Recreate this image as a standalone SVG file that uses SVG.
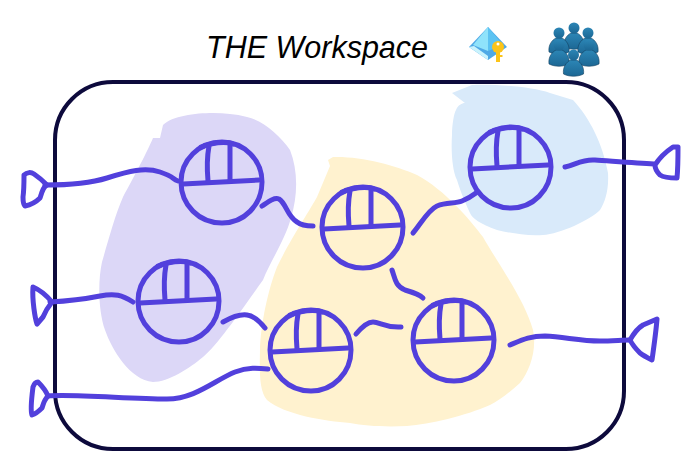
<svg xmlns="http://www.w3.org/2000/svg" width="700" height="473" viewBox="0 0 700 473">
<style>
.ink{fill:none;stroke:#5240dc;stroke-width:5;stroke-linecap:round;stroke-linejoin:round}
.title{font-family:"Liberation Sans",Arial,sans-serif;font-style:italic;font-size:30.500px;fill:#000}
.p{fill:url(#pg)}
</style>
<defs>
<linearGradient id="pg" x1="0" y1="0" x2="0" y2="1"><stop offset="0" stop-color="#2c86b6"/><stop offset="1" stop-color="#1c6794"/></linearGradient>
<g id="glyph" class="ink">
<path d="M-40 0C-40 -22 -22 -40 1 -40C23 -40 41 -22 41 0C41 23 23 41 1 41C-22 41 -40 23 -40 0Z"/>
<path d="M-20 -35C-10 -39 4 -41 12 -38"/>
<path d="M-38 2L38 -2"/>
<path d="M-12 -36C-14 -25 -14 -12 -13 -1"/>
<path d="M9 -37L9 -1"/>
</g>
<g id="person">
<path class="p" stroke="#12405f" stroke-width=".6" d="M-10 10C-11 3 -7 -2 -3 -4L3 -4C7 -2 11 3 10 10C4 13 -4 13 -10 10Z"/>
<circle cx="0" cy="-9" r="5.500" class="p"/>
</g>
</defs>
<rect width="700" height="473" fill="#fff"/>
<g id="zones">
<path fill="#dcd7f7" d="M213 113C195 113 172 116 163 125L160 138L153 138C148 150 135 175 123 197C115 215 107 245 102 262C98 280 98 310 105 330C112 350 130 380 153 382C168 382 190 368 203 357C218 345 245 305 263 280C270 262 285 240 291 218C298 195 298 170 290 150C280 135 262 120 247 117C235 114 225 113 213 113Z"/>
<path fill="#fff2cf" d="M333 157C360 156 395 165 417 175C445 190 470 220 483 237C497 262 525 300 533 330C537 350 530 370 520 383C510 392 500 400 490 405C465 416 430 424 407 426C385 427 365 426 350 423C325 421 285 415 267 400C258 390 260 365 260 347C262 315 270 285 277 267C290 240 310 210 317 197L330 166L328 160Z"/>
<path fill="#d9eafa" d="M452 93L472 85C490 84 530 86 550 93L573 100C590 118 603 145 608 173C609 190 605 202 600 210C590 220 560 234 543 235C525 236 510 233 497 230C480 224 472 218 470 213C464 200 460 190 457 180C452 170 451 150 452 135C452 125 454 113 456 110C458 105 462 103 465 103Z"/>
</g>
<rect id="frame" x="55" y="82" width="569" height="367" rx="58" fill="none" stroke="#0d0a3c" stroke-width="4"/>
<text id="title" class="title" x="206" y="58">THE Workspace</text>
<g id="azure-ad-icon">
<path fill="#4fa9e6" d="M488 27L469 47L488 60L507 47Z"/>
<path fill="#8fe3fb" d="M488 27L473 45L488 51Z"/>
<path fill="#5cc3f2" d="M488 27L488 51L503 45Z"/>
<path fill="#c9f3fd" d="M469 47L488 60L488 56L474 46Z"/>
<circle cx="498" cy="47" r="6" fill="#fcc419"/>
<rect x="496" y="49" width="4" height="13" fill="#fcc419"/>
<rect x="500" y="55" width="2.500" height="2" fill="#fcc419"/>
<circle cx="498" cy="44" r="1.500" fill="#fff"/>
</g>
<g id="group-icon">
<use href="#person" transform="translate(574,37)"/>
<use href="#person" transform="translate(559,42)"/>
<use href="#person" transform="translate(588,42)"/>
<use href="#person" transform="translate(559,54)"/>
<use href="#person" transform="translate(589,54)"/>
<use href="#person" transform="translate(573.500,64)"/>
</g>
<g id="connectors" class="ink">
<path d="M45 185C60 185 85 185 107 178S145 167 160 172S172 179 178 181"/>
<path d="M50 302C70 301 85 299 100 296S122 295 133 302"/>
<path d="M48 396C75 394 130 399 167 399C195 399 215 380 235 372C248 367 258 368 268 369"/>
<path d="M223 322C232 317 240 314 247 315C255 316 261 323 265 328"/>
<path d="M262 206C268 202 274 197 279 199C286 203 287 216 297 222C302 226 308 226 313 226"/>
<path d="M413 233C420 225 428 210 437 206C447 202 455 204 462 201C467 199 472 196 476 193"/>
<path d="M392 270C395 278 395 286 405 290C412 292 420 295 423 298"/>
<path d="M356 334C361 328 367 322 373 322C380 322 385 328 401 327"/>
<path d="M565 167C575 165 582 159 595 160C610 161 635 163 654 164"/>
<path d="M510 345C522 340 530 336 545 336C565 337 580 341 600 341C612 341 622 340 630 340"/>
</g>
<g id="node-1"><use href="#glyph" x="221" y="182"/></g>
<g id="node-2"><use href="#glyph" x="178" y="301"/></g>
<g id="node-3"><use href="#glyph" x="362" y="227"/></g>
<g id="node-4"><use href="#glyph" x="510" y="167"/></g>
<g id="node-5"><use href="#glyph" x="310" y="350"/></g>
<g id="node-6"><use href="#glyph" x="453" y="340"/></g>
<g id="terminal-1" class="ink"><path d="M24 175C27 172 31 172 34 174C40 178 44 182 47 185C43 187 42 192 40 198C36 202 30 205 25 206C23 204 23 200 23 197C24 190 24 182 24 175Z"/></g>
<g id="terminal-2" class="ink"><path d="M33 287C40 290 47 296 52 302C48 307 45 312 43 317L37 324C35 318 32 300 33 287Z"/></g>
<g id="terminal-3" class="ink"><path d="M38 382C42 386 46 391 48 396C44 400 43 405 42 408C39 411 35 414 32 415C30 410 32 395 33 387C34 384 36 382 38 382Z"/></g>
<g id="terminal-4" class="ink"><path d="M655 165C660 157 667 151 673 147L678 147C678 158 678 168 677 178C670 178 663 177 660 175C657 172 655 168 655 165Z"/></g>
<g id="terminal-5" class="ink"><path d="M630 340C634 333 638 328 643 325L657 319C656 332 654 346 652 360C648 358 644 356 640 353C636 349 632 344 630 340Z"/></g>
</svg>
